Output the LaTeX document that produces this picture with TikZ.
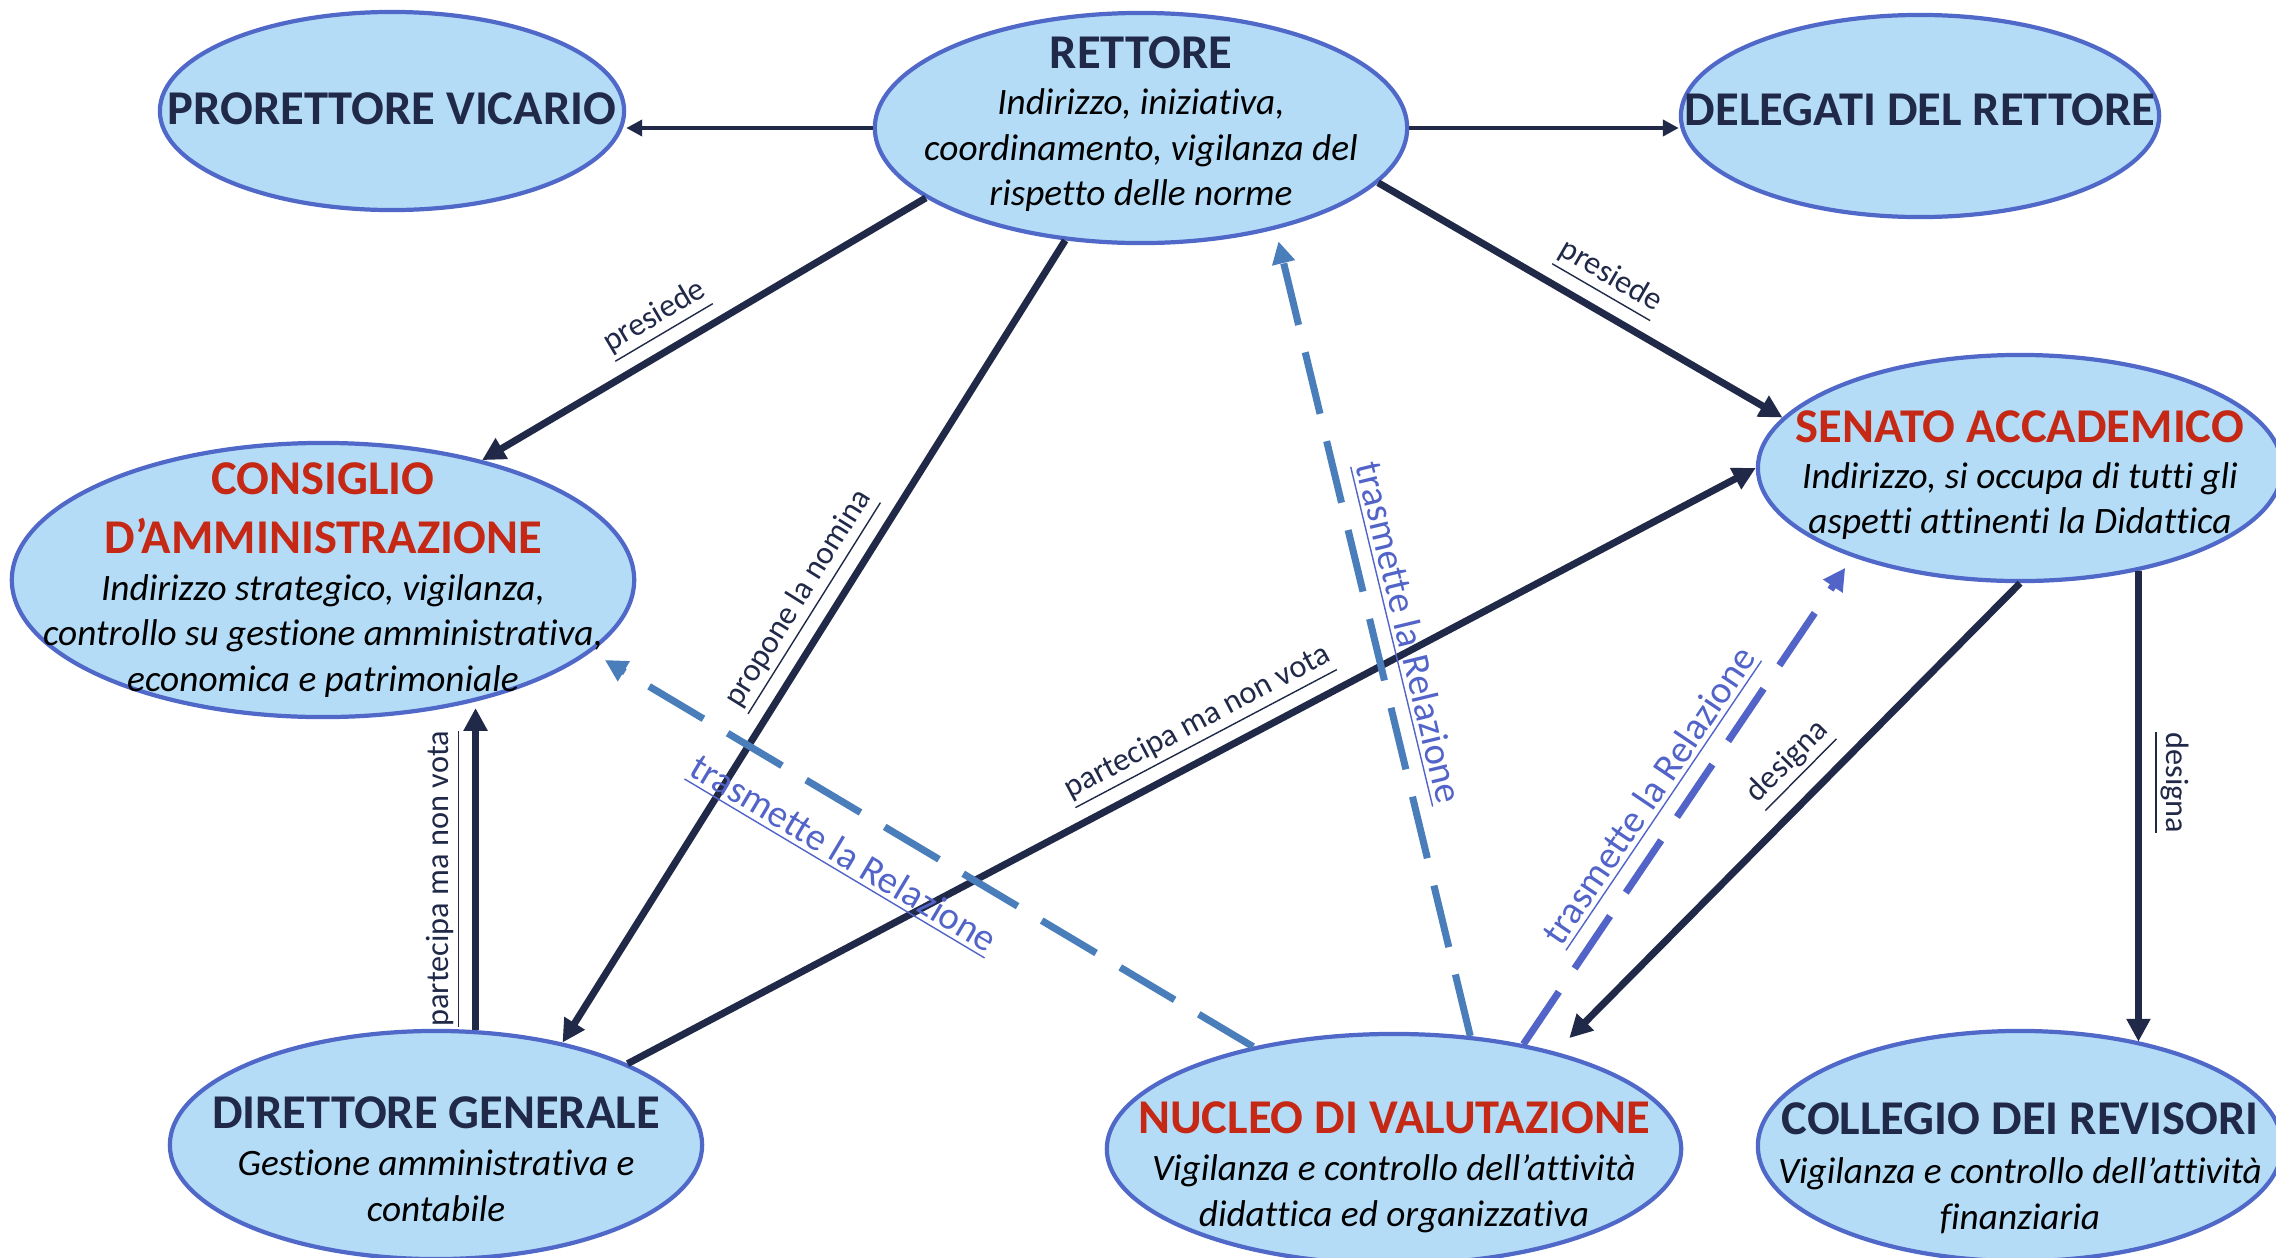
\documentclass[tikz,border=0pt]{standalone}
\usepackage{fontspec}
\setmainfont{Carlito}[Ligatures=NoCommon]
\usepackage{tikz}
\usetikzlibrary{shapes.geometric,arrows.meta}
\definecolor{blunotte}{RGB}{33,41,72}
\definecolor{rosso}{RGB}{197,40,20}
\definecolor{celeste}{RGB}{180,220,247}
\definecolor{bordo}{RGB}{80,104,200}
\definecolor{acciaio}{RGB}{74,126,187}
\definecolor{viola}{RGB}{82,100,200}
\newcommand{\titolo}[2]{{\color{#1}\fontsize{13.8}{16.2}\selectfont\bfseries\upshape #2}}

\begin{document}
\begin{tikzpicture}[
    x=0.01cm, y=-0.01cm,  % one unit = one pixel, y going down
    organo/.style = {draw=bordo, line width=1.2pt, fill=celeste, ellipse, inner sep=0pt},
    testo/.style = {align=center, font=\fontsize{10.6}{12.9}\selectfont\itshape, inner sep=0pt},
    freccia/.style = {draw=blunotte, line width=2pt, -{Triangle[length=6.5pt,width=6.5pt]}},
    sottile/.style = {draw=blunotte, line width=1.15pt, -{Triangle[length=4.5pt,width=4.5pt]}},
    tratto/.style = {line width=2pt, dash pattern=on 18pt off 8pt, -{Triangle[length=6.3pt,width=6.3pt]}},
    etichetta/.style = {font=\fontsize{9.2}{11}\selectfont, text=blunotte, sloped},
    relazione/.style = {font=\fontsize{11}{13}\selectfont, text=viola, sloped}
  ]
    \useasboundingbox (0,0) rectangle (2276,1257);

    % gli organi
    \node[organo, minimum width=4.64cm, minimum height=1.98cm] (pror) at (392,111) {};
    \node[organo, minimum width=5.32cm, minimum height=2.30cm] (rett) at (1141,128) {};
    \node[organo, minimum width=4.78cm, minimum height=2.02cm] (dele) at (1920,116) {};
    \node[organo, minimum width=6.22cm, minimum height=2.74cm] (cons) at (323,580) {};
    \node[organo, minimum width=5.24cm, minimum height=2.26cm] (sen) at (2020,468) {};
    \node[organo, minimum width=5.32cm, minimum height=2.28cm] (dir) at (436,1145) {};
    \node[organo, minimum width=5.74cm, minimum height=2.30cm] (nucl) at (1394,1149) {};
    \node[organo, minimum width=5.24cm, minimum height=2.30cm] (coll) at (2020,1146) {};

    \node[testo] (pror_txt) at (392,109) {\titolo{blunotte}{PRORETTORE VICARIO}};
    \node[testo] (rett_txt) at (1141,124) {\titolo{blunotte}{RETTORE}\\[0.3pt]
      Indirizzo, iniziativa,\\ coordinamento, vigilanza del\\ rispetto delle norme};
    \node[testo] (dele_txt) at (1920,110) {\titolo{blunotte}{DELEGATI DEL RETTORE}};
    \node[testo] (cons_txt) at (323,580) {\titolo{rosso}{CONSIGLIO}\\[3.8pt]\titolo{rosso}{D’AMMINISTRAZIONE}\\[0.5pt]
      Indirizzo strategico, vigilanza,\\ controllo su gestione amministrativa,\\ economica e patrimoniale};
    \node[testo] (sen_txt) at (2020,475) {\titolo{rosso}{SENATO ACCADEMICO}\\[0.3pt]
      Indirizzo, si occupa di tutti gli\\ aspetti attinenti la Didattica};
    \node[testo] (dir_txt) at (436,1159) {\titolo{blunotte}{DIRETTORE GENERALE}\\[0.6pt]
      Gestione amministrativa e\\ contabile};
    \node[testo] (nucl_txt) at (1394,1167) {\titolo{rosso}{NUCLEO DI VALUTAZIONE}\\[0.6pt]
      Vigilanza e controllo dell’attività\\ didattica ed organizzativa};
    \node[testo] (coll_txt) at (2020,1168) {\titolo{blunotte}{COLLEGIO DEI REVISORI}\\[1.2pt]
      Vigilanza e controllo dell’attività\\ finanziaria};

    \draw[sottile] (rett.west) -- (rett.west -| pror.east);
    \draw[sottile] (rett.east) -- (rett.east -| dele.west);
    \draw[freccia] (rett.-162) -- node[etichetta, pos=0.57, above] (lab_pres1) {\underline{presiede}} (cons.37);
    \draw[freccia] (rett.-124) -- node[etichetta, pos=0.47, above] (lab_nom) {\underline{propone la nomina}} (dir.39);
    \draw[freccia] (rett.-13) -- node[etichetta, pos=0.53, above] (lab_pres2) {\underline{presiede}} (sen.168);
    \draw[freccia, shorten >=2pt] (dir.71) -- node[etichetta, pos=0.46, above] (lab_part1) {\underline{partecipa ma non vota}} (dir.71 |- cons.-38);
    \draw[freccia] (dir.23) -- node[etichetta, pos=0.52, above] (lab_part2) {\underline{partecipa ma non vota}} (sen.west);
    \draw[freccia, shorten >=5.5pt] (sen.south) -- node[etichetta, pos=0.44, above=1pt] (lab_des1) {\underline{designa}} (nucl.31);
    \draw[freccia] (sen.-41) -- node[etichetta, pos=0.45, above] (lab_des2) {\underline{designa}} (sen.-41 |- coll.41);

    % trasmissione della Relazione:
    \draw[tratto, draw=acciaio, shorten >=4.5pt] (nucl.144) -- node[relazione, pos=0.585, below=4pt] (lab_rel1) {\underline{trasmette la Relazione}} (cons.-15);
    \draw[tratto, draw=acciaio, shorten >=3.5pt] (nucl.56) -- node[relazione, pos=0.49, above] (lab_rel2) {\underline{trasmette la Relazione}} (rett.-37);
    \draw[tratto, draw=viola, shorten >=3.7pt] (nucl.39) -- node[relazione, pos=0.47, above] (lab_rel3) {\underline{trasmette la Relazione}} (sen.-152);
  \end{tikzpicture}
\end{document}
